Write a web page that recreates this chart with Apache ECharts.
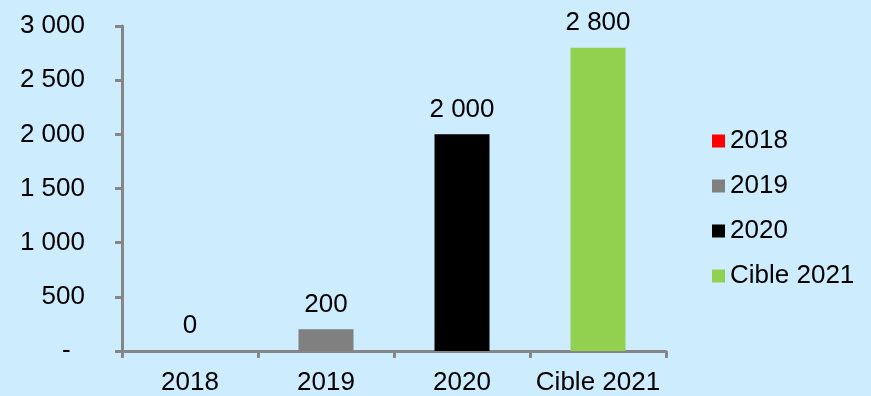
<!DOCTYPE html>
<html>
<head>
<meta charset="utf-8">
<script src="https://cdn.jsdelivr.net/npm/echarts@6/dist/echarts.min.js"></script>
<style>
	html, body { margin: 0; padding: 0; background: #cdecfe; }
	#chart { width: 871px; height: 396px; }
</style>
</head>
<body>
<div id="chart"></div>
<script>
const categories = ['2018', '2019', '2020', 'Cible 2021']
const values = [0, 200, 2000, 2800]
const colors = ['#ff0000', '#808080', '#000000', '#92d050']
const yTicks = [0, 500, 1000, 1500, 2000, 2500, 3000]

const font = 'Liberation Sans, Arial, sans-serif'

// thousands with a space, zero shown as a dash like Excel accounting format
const fmt = (v) => String(v).replace(/\B(?=(\d{3})+(?!\d))/g, ' ')

const series = categories.map((name, i) => ({
	name,
	type: 'bar',
	stack: 'total',
	barWidth: 55,
	itemStyle: { color: colors[i] },
	label: {
		show: true,
		position: 'top',
		distance: 12,
		color: '#000',
		fontFamily: font,
		fontSize: 26,
		formatter: (p) => fmt(p.value)
	},
	data: categories.map((c, j) => (j === i ? values[i] : null))
}))

const chart = echarts.init(document.getElementById('chart'))

chart.setOption({
	backgroundColor: '#cdecfe',
	animation: false,
	grid: { left: 122, right: 205, top: 26, bottom: 44 },
	legend: {
		orient: 'vertical',
		left: 707,
		top: 123,
		icon: 'rect',
		itemWidth: 13,
		itemHeight: 13,
		itemGap: 19,
		textStyle: { color: '#000', fontFamily: font, fontSize: 26 },
		data: categories
	},
	xAxis: {
		type: 'category',
		data: categories,
		axisLine: { lineStyle: { color: '#868686', width: 3 } },
		axisTick: { show: true, length: 7, lineStyle: { color: '#868686', width: 3 } },
		axisLabel: {
			color: '#000',
			fontFamily: font,
			fontSize: 26,
			margin: 19,
			interval: 0,
			hideOverlap: false
		}
	},
	yAxis: {
		type: 'value',
		min: yTicks[0],
		max: yTicks[yTicks.length - 1],
		interval: yTicks[1] - yTicks[0],
		splitLine: { show: false },
		axisLine: { show: true, lineStyle: { color: '#868686', width: 3 } },
		axisTick: { show: true, length: 7, lineStyle: { color: '#868686', width: 3 } },
		axisLabel: {
			color: '#000',
			fontFamily: font,
			fontSize: 26,
			margin: 37,
			formatter: (v) => (v === 0 ? '-  ' : fmt(v))
		}
	},
	series
})
</script>
</body>
</html>
